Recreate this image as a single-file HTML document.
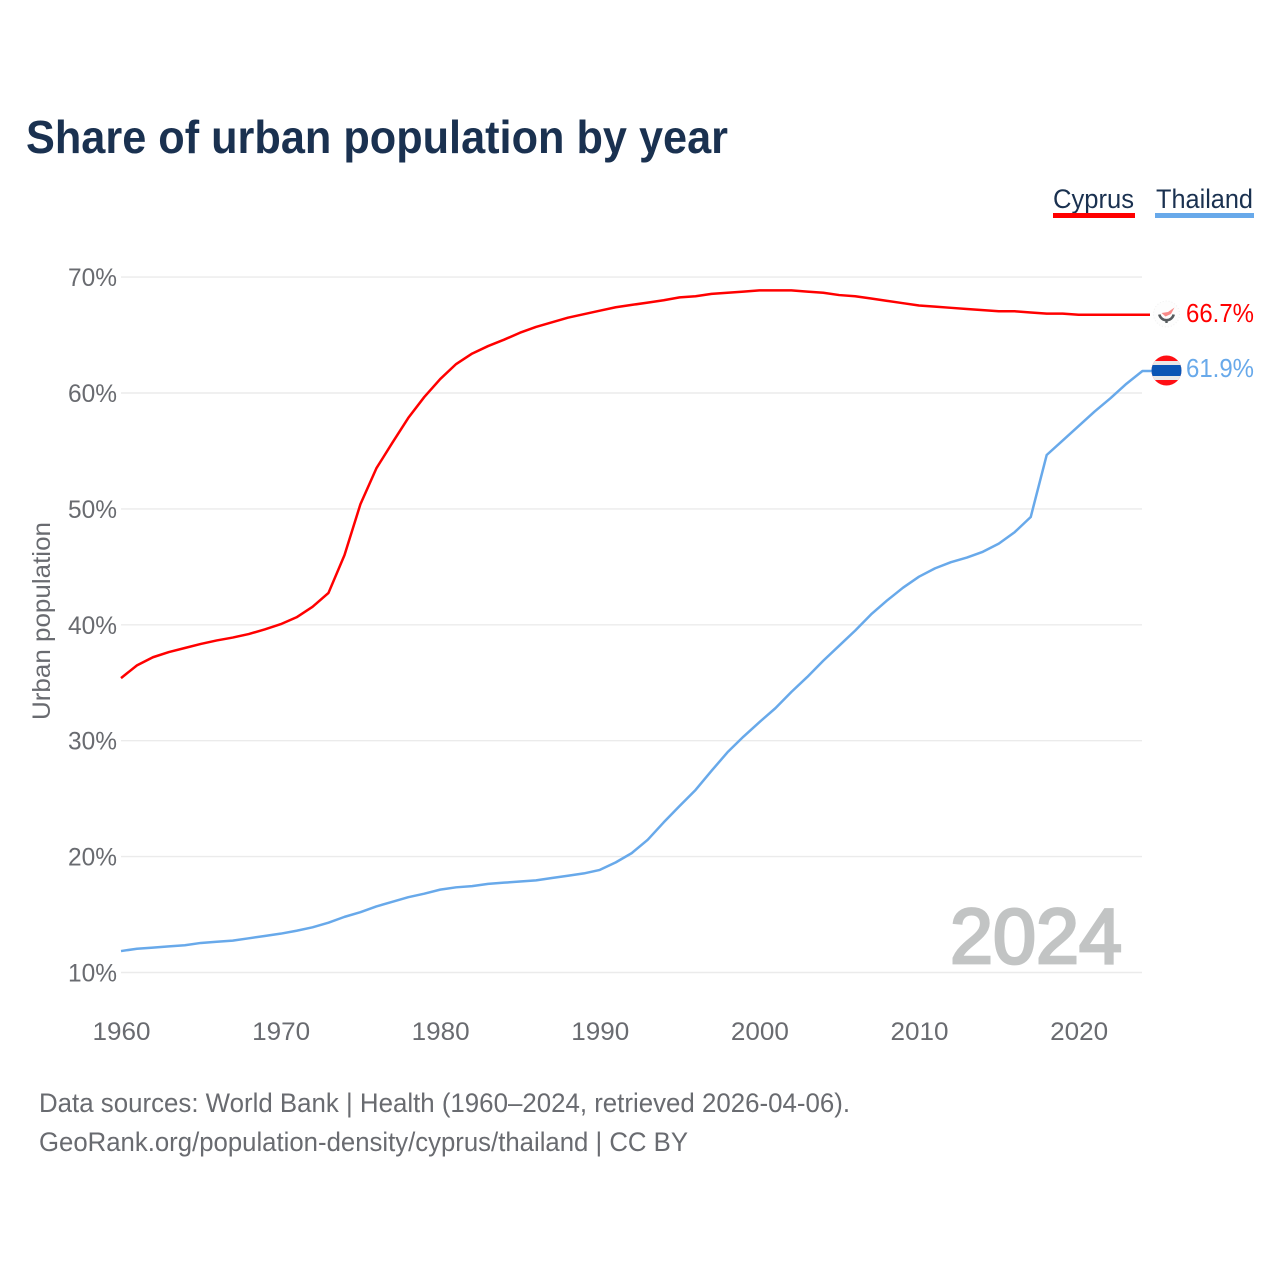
<!DOCTYPE html>
<html lang="en">
<head>
<meta charset="utf-8">
<title>Share of urban population by year</title>
<style>
html,body{margin:0;padding:0;background:#fff;width:1280px;height:1280px;overflow:hidden}
svg{display:block}
text{font-family:"Liberation Sans",sans-serif}
</style>
</head>
<body>
<svg id="chart" width="1280" height="1280" viewBox="0 0 1280 1280" xmlns="http://www.w3.org/2000/svg">
  <rect width="1280" height="1280" fill="#fff"/>
  <text x="26" y="153" font-size="46" font-weight="700" fill="#1a3150" textLength="702" lengthAdjust="spacingAndGlyphs">Share of urban population by year</text>

  <g>
    <text x="1053" y="208" font-size="27" fill="#1a3150" textLength="81" lengthAdjust="spacingAndGlyphs">Cyprus</text>
    <rect x="1053" y="213" width="82" height="5" fill="#ff0000"/>
  </g>
  <g>
    <text x="1156" y="208" font-size="27" fill="#1a3150" textLength="97" lengthAdjust="spacingAndGlyphs">Thailand</text>
    <rect x="1155" y="213" width="99" height="5" fill="#68a9ea"/>
  </g>

  <g id="grid"></g>
  <g id="yticks"></g>
  <g id="xticks"></g>

  <text transform="translate(50,621) rotate(-90)" text-anchor="middle" font-size="25" fill="#696b70" textLength="198" lengthAdjust="spacingAndGlyphs">Urban population</text>

  <text x="1122" y="963" text-anchor="end" font-size="78" font-weight="400" fill="#c2c4c4" stroke="#c2c4c4" stroke-width="2.8" textLength="172" lengthAdjust="spacingAndGlyphs">2024</text>

  <g id="series"></g>

  <g>
    <circle cx="1166.5" cy="314" r="13" fill="#fdfdfd" stroke="#f0f0f0" stroke-width="1" stroke-dasharray="1 2"/>
    <path d="M1161.5 313 L1168 312 L1174.5 307.5 L1171 314 L1165.5 316.5 Z" fill="#f88a88"/>
    <path d="M1159.3 314.5 A7.4 7.4 0 0 0 1173.7 314.5" fill="none" stroke="#565b5e" stroke-width="2.6"/>
    <rect x="1165.3" y="320" width="2.4" height="3" fill="#565b5e"/>
  </g>
  <g>
    <clipPath id="thai-clip"><circle cx="1166.5" cy="370.5" r="15"/></clipPath>
    <g clip-path="url(#thai-clip)">
      <rect x="1151" y="355" width="31" height="31" fill="#ff0f14"/>
      <rect x="1151" y="361" width="31" height="19" fill="#e8e8e8"/>
      <rect x="1151" y="365" width="31" height="11" fill="#0a55b5"/>
    </g>
  </g>

  <text x="1254" y="322" text-anchor="end" font-size="26" fill="#ff0000" textLength="68" lengthAdjust="spacingAndGlyphs">66.7%</text>
  <text x="1254" y="377" text-anchor="end" font-size="26" fill="#68a9ea" textLength="68" lengthAdjust="spacingAndGlyphs">61.9%</text>

  <text x="39" y="1112" font-size="26.5" fill="#696b70" textLength="811" lengthAdjust="spacingAndGlyphs">Data sources: World Bank | Health (1960–2024, retrieved 2026-04-06).</text>
  <text x="39" y="1151" font-size="26.5" fill="#696b70" textLength="649" lengthAdjust="spacingAndGlyphs">GeoRank.org/population-density/cyprus/thailand | CC BY</text>
</svg>
<script>
const firstYear = 1960;
const yTickValues = [10, 20, 30, 40, 50, 60, 70];
const xTickValues = [1960, 1970, 1980, 1990, 2000, 2010, 2020];
const cyprusValues = [35.4,36.5,37.2,37.65,38.0,38.35,38.65,38.9,39.2,39.6,40.05,40.65,41.55,42.75,46.0,50.4,53.5,55.7,57.85,59.65,61.2,62.5,63.4,64.05,64.6,65.2,65.7,66.1,66.5,66.8,67.1,67.4,67.6,67.8,68.0,68.25,68.35,68.55,68.65,68.75,68.85,68.85,68.85,68.75,68.65,68.45,68.35,68.15,67.95,67.75,67.55,67.45,67.35,67.25,67.15,67.05,67.05,66.95,66.85,66.85,66.75,66.75,66.75,66.75,66.75];
const thailandValues = [11.85,12.05,12.15,12.25,12.35,12.55,12.65,12.75,12.95,13.15,13.35,13.6,13.9,14.3,14.8,15.2,15.7,16.1,16.5,16.8,17.15,17.35,17.45,17.65,17.75,17.85,17.95,18.15,18.35,18.55,18.85,19.5,20.3,21.45,22.95,24.37,25.75,27.4,29.0,30.35,31.6,32.8,34.2,35.5,36.9,38.2,39.5,40.9,42.1,43.2,44.15,44.87,45.4,45.8,46.3,47.0,48.0,49.3,54.65,55.9,57.15,58.4,59.55,60.8,61.9];

const NS = 'http://www.w3.org/2000/svg';
function xScale(year) { return 121 + (year - firstYear) * 15.96; }
function yScale(pct) { return 972.5 - (pct - 10) * 11.59; }

const gridGroup = document.getElementById('grid');
const yTickGroup = document.getElementById('yticks');
const xTickGroup = document.getElementById('xticks');
const seriesGroup = document.getElementById('series');

yTickValues.forEach(function (v) {
  const line = document.createElementNS(NS, 'line');
  
  
  line.setAttribute('x1', 121);
  line.setAttribute('x2', 1142);
  line.setAttribute('y1', yScale(v));
  line.setAttribute('y2', yScale(v));
  line.setAttribute('stroke', '#ebebeb');
  line.setAttribute('stroke-width', '1.4');
  gridGroup.appendChild(line);

  const t = document.createElementNS(NS, 'text');
  
  
  t.setAttribute('x', 117);
  t.setAttribute('y', yScale(v) + 9);
  t.setAttribute('text-anchor', 'end');
  t.setAttribute('font-size', '25');
  t.setAttribute('fill', '#696b70');
  t.setAttribute('textLength', '49');
  t.setAttribute('lengthAdjust', 'spacingAndGlyphs');
  t.textContent = v + '%';
  yTickGroup.appendChild(t);
});

xTickValues.forEach(function (v) {
  const t = document.createElementNS(NS, 'text');
  
  
  t.setAttribute('x', xScale(v) + 0.5);
  t.setAttribute('y', 1040);
  t.setAttribute('text-anchor', 'middle');
  t.setAttribute('font-size', '25');
  t.setAttribute('fill', '#696b70');
  t.setAttribute('textLength', '58');
  t.setAttribute('lengthAdjust', 'spacingAndGlyphs');
  t.textContent = v;
  xTickGroup.appendChild(t);
});

function drawSeries(values, color, name, leaderEnd) {
  const pts = values.map(function (v, i) {
    return xScale(firstYear + i).toFixed(2) + ',' + yScale(v).toFixed(2);
  });
  const last = values[values.length - 1];
  pts.push(leaderEnd + ',' + yScale(last).toFixed(2));
  const line = document.createElementNS(NS, 'polyline');
  
  
  line.setAttribute('points', pts.join(' '));
  line.setAttribute('fill', 'none');
  line.setAttribute('stroke', color);
  line.setAttribute('stroke-width', '2.5');
  line.setAttribute('stroke-linejoin', 'round');
  seriesGroup.appendChild(line);
}
drawSeries(thailandValues, '#68a9ea', 'line-thailand', 1152);
drawSeries(cyprusValues, '#ff0000', 'line-cyprus', 1150);
</script>
</body>
</html>
